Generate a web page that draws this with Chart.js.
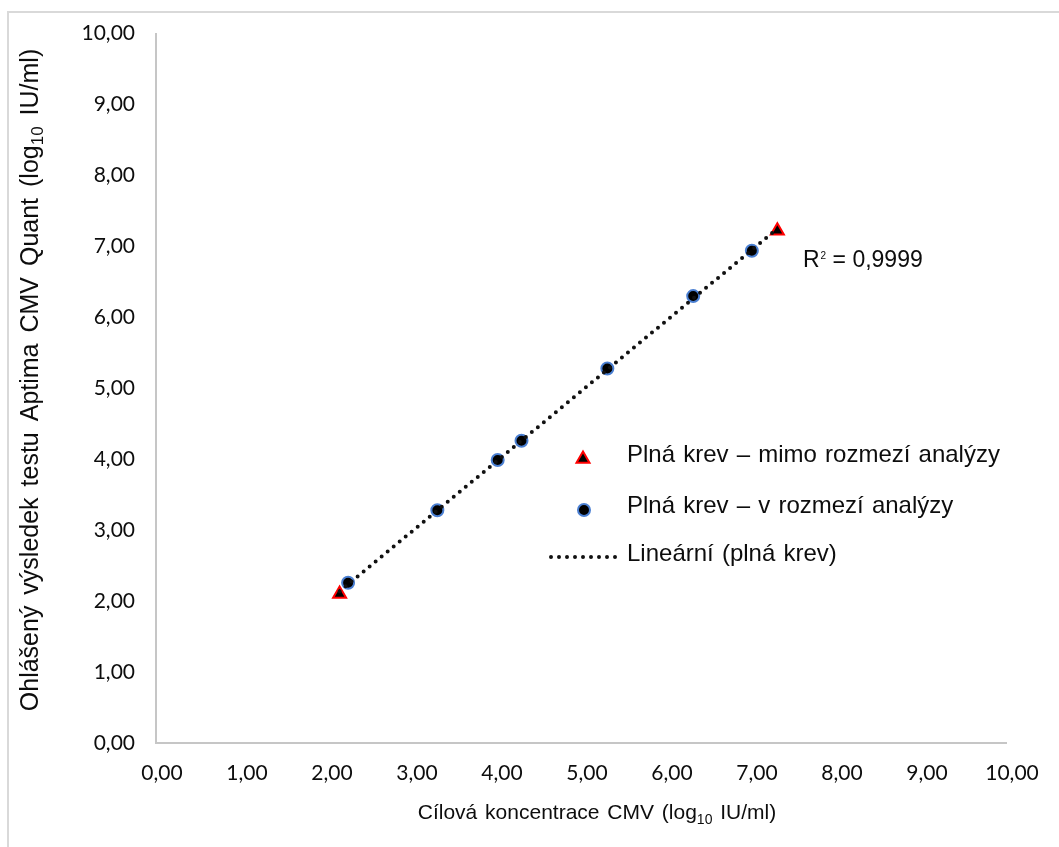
<!DOCTYPE html>
<html>
<head>
<meta charset="utf-8">
<script src="https://cdn.jsdelivr.net/npm/chart.js@4.4.1/dist/chart.umd.min.js"></script>
<style>
html,body{margin:0;padding:0;background:#ffffff;}
canvas{display:block;}
</style>
</head>
<body>
<canvas id="c" width="1059" height="847"></canvas>
<script>
// ---------- data ----------
const seriesNames = [
  'Plná krev – mimo rozmezí analýzy',
  'Plná krev – v rozmezí analýzy',
  'Lineární (plná krev)'
];
const outOfRangeX = [2.16, 7.31];
const outOfRangeY = [2.10, 7.22];
const inRangeX = [2.26, 3.31, 4.02, 4.30, 5.31, 6.32, 7.01];
const inRangeY = [2.26, 3.28, 3.99, 4.26, 5.28, 6.30, 6.94];
const xTickLabels = ['0,00','1,00','2,00','3,00','4,00','5,00','6,00','7,00','8,00','9,00','10,00'];
const yTickLabels = ['0,00','1,00','2,00','3,00','4,00','5,00','6,00','7,00','8,00','9,00','10,00'];
const xTitleParts = ['Cílová koncentrace CMV (log', '10', ' IU/ml)'];
const yTitleParts = ['Ohlášený výsledek testu Aptima CMV Quant (log', '10', ' IU/ml)'];
const r2Label = ['R', '2', ' = 0,9999'];

// ---------- derived ----------
const allX = outOfRangeX.concat(inRangeX);
const allY = outOfRangeY.concat(inRangeY);
function linFit(xs, ys) {
  const n = xs.length;
  let sx = 0, sy = 0, sxx = 0, sxy = 0;
  for (let i = 0; i < n; i++) { sx += xs[i]; sy += ys[i]; sxx += xs[i]*xs[i]; sxy += xs[i]*ys[i]; }
  const b = (n*sxy - sx*sy) / (n*sxx - sx*sx);
  const a = (sy - b*sx) / n;
  return {a, b};
}
const fit = linFit(allX, allY);
const minX = Math.min.apply(null, allX), maxX = Math.max.apply(null, allX);
const trendPts = [minX, maxX].map(x => ({x: x, y: fit.a + fit.b*x}));

const toPts = (xs, ys) => xs.map((x, i) => ({x: x, y: ys[i]}));

const TRI_BORDER = '#ff0000';
const CIR_BORDER = '#4a7fd2';
const TEXT = '#0d0d0d';
const AXIS = '#c6c6c6';
const SANS = "'Liberation Sans', Arial, sans-serif";
const TICKF = "Lato, 'Open Sans', sans-serif";

function setWS(ctx, px) { try { ctx.wordSpacing = px + 'px'; } catch (e) {} }

function drawRich(ctx, parts, x, y, size, subScale, subDy, align, ws) {
  const fonts = [size + 'px ' + SANS, Math.round(size*subScale) + 'px ' + SANS, size + 'px ' + SANS];
  setWS(ctx, ws);
  let total = 0;
  const widths = parts.map((t, i) => { ctx.font = fonts[i]; const w = ctx.measureText(t).width; total += w; return w; });
  let cx = align === 'center' ? x - total/2 : x;
  parts.forEach((t, i) => {
    ctx.font = fonts[i];
    ctx.fillText(t, cx, y + (i === 1 ? subDy : 0));
    cx += widths[i];
  });
  setWS(ctx, 0);
}

const decor = {
  id: 'decor',
  beforeDraw(chart) {
    const ctx = chart.ctx;
    ctx.save();
    ctx.fillStyle = '#ffffff';
    ctx.fillRect(0, 0, chart.width, chart.height);
    ctx.strokeStyle = '#d9d9d9';
    ctx.lineWidth = 2;
    ctx.beginPath();
    ctx.moveTo(1059, 12); ctx.lineTo(8, 12); ctx.lineTo(8, 847);
    ctx.stroke();
    ctx.restore();
  },
  afterDraw(chart) {
    const ctx = chart.ctx;
    ctx.save();
    ctx.fillStyle = TEXT;
    ctx.textBaseline = 'alphabetic';
    ctx.textAlign = 'left';
    // x axis title
    drawRich(ctx, xTitleParts, 597, 819, 21, 0.68, 5, 'center', 2);
    // y axis title
    ctx.save();
    ctx.translate(38, 380);
    ctx.rotate(-Math.PI/2);
    drawRich(ctx, yTitleParts, 0, 0, 25, 0.68, 5, 'center', 4);
    ctx.restore();
    // R^2
    ctx.font = '23px ' + SANS;
    ctx.fillText(r2Label[0], 803, 267);
    let w = ctx.measureText(r2Label[0]).width;
    ctx.font = '10px ' + SANS;
    ctx.fillText(r2Label[1], 803 + w + 1, 259);
    let w2 = ctx.measureText(r2Label[1]).width;
    ctx.font = '23px ' + SANS;
    ctx.fillText(r2Label[2], 803 + w + w2 + 1, 267);

    // legend
    const lx = 627;
    const rows = [462, 513, 561];
    ctx.font = '24px ' + SANS;
    setWS(ctx, 1.5);
    seriesNames.forEach((n, i) => ctx.fillText(n, lx, rows[i]));
    setWS(ctx, 0);
    // triangle marker
    const tx = 583, ty = 459, r = 7.5;
    ctx.beginPath();
    ctx.moveTo(tx, ty - r);
    ctx.lineTo(tx + r*Math.sin(Math.PI/3), ty + r*0.5);
    ctx.lineTo(tx - r*Math.sin(Math.PI/3), ty + r*0.5);
    ctx.closePath();
    ctx.fillStyle = '#000'; ctx.fill();
    ctx.strokeStyle = TRI_BORDER; ctx.lineWidth = 2; ctx.stroke();
    // circle marker
    ctx.beginPath();
    ctx.arc(584, 510, 6, 0, Math.PI*2);
    ctx.fillStyle = '#000'; ctx.fill();
    ctx.strokeStyle = CIR_BORDER; ctx.lineWidth = 2; ctx.stroke();
    // dotted line
    ctx.beginPath();
    ctx.setLineDash([0, 8]);
    ctx.lineCap = 'round';
    ctx.lineWidth = 4;
    ctx.strokeStyle = '#111';
    ctx.moveTo(551, 557); ctx.lineTo(617, 557);
    ctx.stroke();
    ctx.restore();
  }
};

new Chart(document.getElementById('c'), {
  type: 'scatter',
  data: {
    datasets: [
      {
        label: seriesNames[2],
        data: trendPts,
        showLine: true,
        pointRadius: 0,
        pointHoverRadius: 0,
        borderColor: '#111111',
        borderWidth: 4,
        borderDash: [0, 7.8],
        borderCapStyle: 'round',
        fill: false,
        order: 0
      },
      {
        label: seriesNames[0],
        data: toPts(outOfRangeX, outOfRangeY),
        pointStyle: 'triangle',
        pointRadius: 7.5,
        backgroundColor: '#000000',
        borderColor: TRI_BORDER,
        borderWidth: 2,
        order: 1
      },
      {
        label: seriesNames[1],
        data: toPts(inRangeX, inRangeY),
        pointStyle: 'circle',
        pointRadius: 6,
        backgroundColor: '#000000',
        borderColor: CIR_BORDER,
        borderWidth: 2,
        order: 2
      }
    ]
  },
  options: {
    responsive: false,
    animation: false,
    devicePixelRatio: 1,
    layout: { padding: { left: 0, top: 32, right: 53, bottom: 0 } },
    plugins: { legend: { display: false }, tooltip: { enabled: false } },
    scales: {
      x: {
        type: 'linear', position: 'bottom', min: 0, max: 10,
        grid: { display: false, drawTicks: false },
        border: { display: true, color: AXIS, width: 2 },
        ticks: {
          stepSize: 1, padding: 18, color: TEXT, labelOffset: 6,
          font: { family: TICKF, size: 21 },
          callback: (v) => xTickLabels[Math.round(v)]
        },
        afterFit: (s) => { s.height = 104; }
      },
      y: {
        type: 'linear', position: 'left', min: 0, max: 10,
        grid: { display: false, drawTicks: false },
        border: { display: true, color: AXIS, width: 2 },
        ticks: {
          stepSize: 1, padding: 21, color: TEXT,
          font: { family: TICKF, size: 21 },
          callback: (v) => yTickLabels[Math.round(v)]
        },
        afterFit: (s) => { s.width = 156; }
      }
    }
  },
  plugins: [decor]
});
</script>
</body>
</html>
